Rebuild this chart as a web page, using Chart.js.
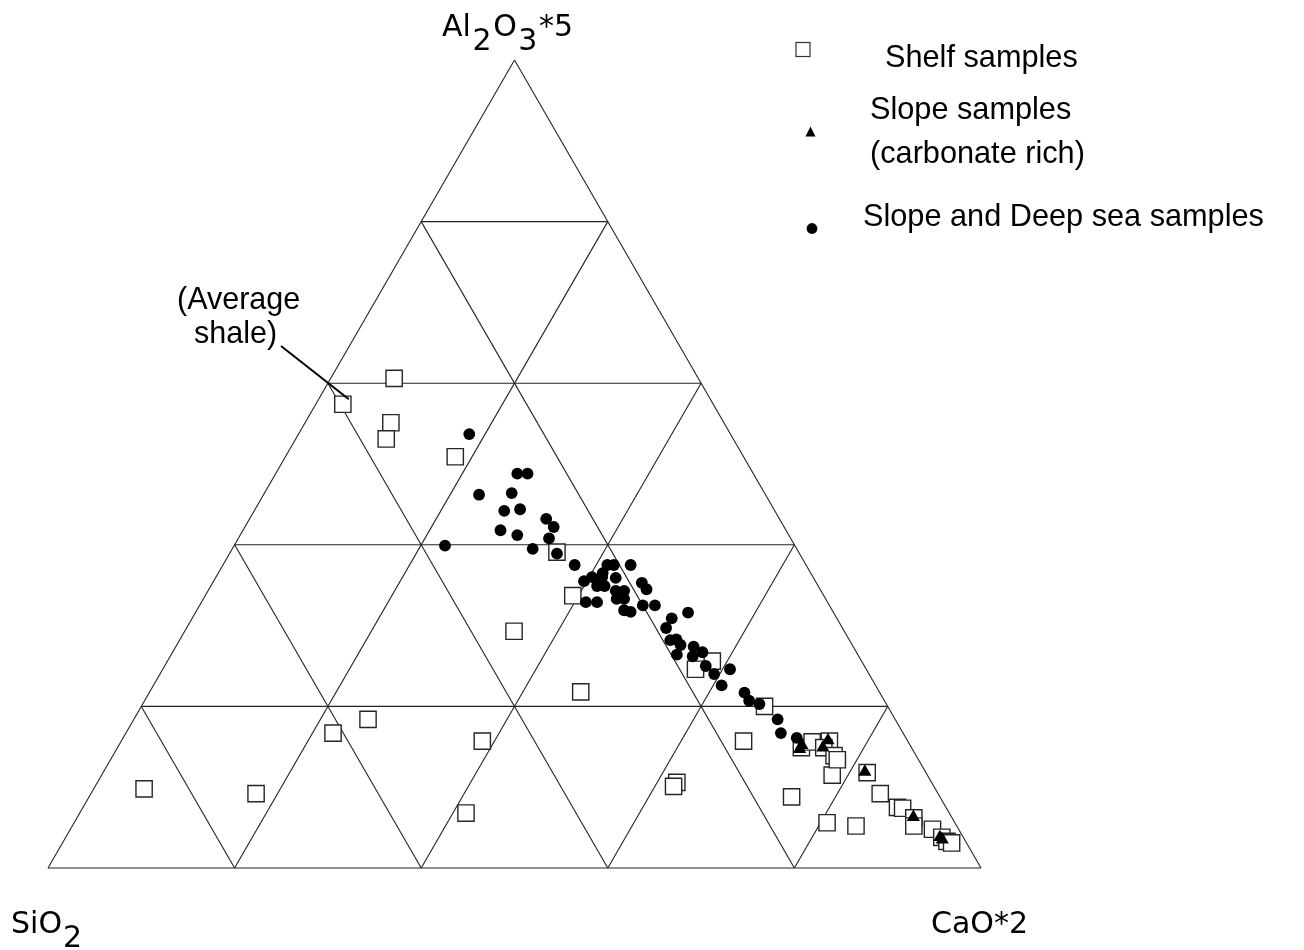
<!DOCTYPE html>
<html>
<head>
<meta charset="utf-8">
<title>Ternary diagram SiO2 - Al2O3 - CaO</title>
<script src="https://cdn.jsdelivr.net/npm/chart.js@4.4.1/dist/chart.umd.min.js"></script>
<style>
  html, body { margin: 0; padding: 0; background: #fff; }
  canvas { display: block; }
</style>
</head>
<body>
<canvas id="ternary" width="1304" height="950"></canvas>
<script>
// Compositions as [Al2O3*5 %, CaO*2 %]; SiO2 makes up the rest
const averageShale = [57.4, 2.9];

const shelfSamples = [
    [60.6, 6.8], [55.1, 9.2], [53.1, 9.7], [50.9, 18.2], [39.1, 35.0],
    [33.7, 39.4], [29.3, 35.3], [21.8, 46.2], [18.4, 25.1], [16.7, 22.2],
    [15.7, 38.7], [9.8, 5.4], [9.2, 17.7], [6.8, 41.4], [24.6, 57.1],
    [25.6, 58.4], [20.0, 66.8], [15.7, 66.7], [10.6, 62.1], [10.1, 62.0],
    [8.8, 75.3], [5.6, 80.7], [5.2, 84.0], [11.5, 78.3], [14.9, 73.3],
    [15.6, 74.1], [15.7, 75.9], [14.9, 75.7], [13.9, 77.3], [13.4, 77.9],
    [11.8, 81.9], [9.2, 84.6], [7.5, 87.3], [7.4, 87.9], [6.2, 89.7],
    [5.2, 90.2], [4.8, 92.4], [3.8, 93.9], [3.3, 94.7], [3.1, 95.3]
];

const slopeCarbonate = [
    [15.2, 73.2], [14.7, 73.2], [14.9, 75.6], [15.8, 75.7],
    [11.9, 81.6], [6.3, 89.6], [3.8, 93.7], [3.5, 94.1]
];

const slopeDeepSea = [
    [53.7, 18.3], [48.8, 25.9], [48.8, 27.0], [46.2, 23.1], [46.4, 26.5],
    [44.2, 26.8], [44.4, 28.4], [41.8, 27.6], [41.2, 29.7], [43.2, 31.8],
    [42.2, 33.1], [40.8, 33.3], [39.9, 22.6], [39.5, 32.2], [38.9, 35.1],
    [37.5, 37.7], [37.5, 41.2], [37.5, 41.9], [37.5, 43.7], [36.5, 41.2],
    [35.5, 39.7], [36.0, 40.3], [36.0, 41.4], [35.9, 42.9], [34.9, 41.4],
    [34.9, 42.2], [35.3, 46.0], [34.5, 46.9], [32.9, 41.2], [32.9, 42.4],
    [34.3, 43.7], [34.3, 44.6], [33.3, 44.3], [33.3, 45.1], [31.9, 45.8],
    [31.7, 46.6], [32.5, 47.5], [32.5, 48.8], [31.6, 52.8], [30.9, 51.4],
    [29.7, 51.4], [28.2, 52.6], [28.3, 53.2], [27.6, 54.0], [26.4, 54.2],
    [27.4, 55.5], [26.7, 56.8], [26.2, 56.0], [25.0, 58.0], [24.0, 59.4],
    [24.6, 60.8], [22.6, 60.9], [21.7, 63.8], [20.7, 64.8], [20.3, 66.1],
    [18.4, 69.0], [16.7, 70.2], [16.1, 72.2]
];

const gridSteps = [20, 40, 60, 80];

const SQRT3_2 = Math.sqrt(3) / 2;

// ternary -> cartesian, base 0..100, apex at (50, 86.6)
function toXY(p) {
    const a = p[0], c = p[1];
    return { x: c + a / 2, y: a * SQRT3_2 };
}

function gridSegments() {
    const segs = [
        [[0, 0], [0, 100]],
        [[0, 100], [100, 0]],
        [[100, 0], [0, 0]]
    ];
    gridSteps.forEach(s => {
        segs.push([[s, 0], [s, 100 - s]]);         // constant Al2O3
        segs.push([[0, s], [100 - s, s]]);         // constant CaO
        segs.push([[0, 100 - s], [100 - s, 0]]);   // constant SiO2
    });
    return segs;
}

const gridDatasets = gridSegments().map(seg => ({
    data: seg.map(toXY),
    showLine: true,
    borderColor: '#222',
    borderWidth: 1.1,
    pointRadius: 0,
    fill: false,
    clip: false,
    order: 10
}));

const pointDatasets = [
    {
        label: 'Shelf samples',
        data: [averageShale].concat(shelfSamples).map(toXY),
        pointStyle: 'rect',
        pointRadius: 11.5,
        backgroundColor: '#fff',
        borderColor: '#262626',
        borderWidth: 1.4,
        clip: false,
        order: 3
    },
    {
        label: 'Slope and Deep sea samples',
        data: slopeDeepSea.map(toXY),
        pointStyle: 'circle',
        pointRadius: 5.9,
        backgroundColor: '#000',
        borderColor: '#000',
        borderWidth: 0,
        clip: false,
        order: 2
    },
    {
        label: 'Slope samples (carbonate rich)',
        data: slopeCarbonate.map(toXY),
        pointStyle: 'triangle',
        pointRadius: 7.6,
        backgroundColor: '#000',
        borderColor: '#000',
        borderWidth: 0,
        clip: false,
        order: 1
    }
];

// chemical formula with same-size subscripts dropped below the baseline
function drawFormula(ctx, parts, x, y, gap) {
    ctx.font = '30px "DejaVu Sans", sans-serif';
    ctx.textAlign = 'left';
    ctx.textBaseline = 'alphabetic';
    parts.forEach(([t, sub]) => {
        ctx.fillText(t, x, sub ? y + 14 : y);
        x += ctx.measureText(t).width + gap;
    });
}

const labelPlugin = {
    id: 'ternaryLabels',
    afterDatasetsDraw(chart) {
        const ctx = chart.ctx;
        const xs = chart.scales.x, ys = chart.scales.y;
        ctx.save();
        ctx.fillStyle = '#000';
        ctx.strokeStyle = '#000';

        // apex / corner labels
        drawFormula(ctx, [['Al', 0], ['2', 1], ['O', 0], ['3', 1], ['*5', 0]], 442, 36, 1.6);
        drawFormula(ctx, [['SiO', 0], ['2', 1]], 11, 933, 1);
        drawFormula(ctx, [['CaO*2', 0]], 931, 933, 0);

        // legend
        ctx.font = '30.7px "Liberation Sans", Arial, sans-serif';
        ctx.fillText('Shelf samples', 885, 67);
        ctx.fillText('Slope samples', 870, 119);
        ctx.fillText('(carbonate rich)', 870, 163);
        ctx.fillText('Slope and Deep sea samples', 863, 226);

        ctx.lineWidth = 1.2;
        ctx.fillStyle = '#fff';
        ctx.strokeStyle = '#333';
        ctx.fillRect(796, 42.5, 14, 14);
        ctx.strokeRect(796, 42.5, 14, 14);

        ctx.fillStyle = '#000';
        ctx.beginPath();
        ctx.moveTo(810.5, 126.5);
        ctx.lineTo(815.5, 136.5);
        ctx.lineTo(805.5, 136.5);
        ctx.closePath();
        ctx.fill();

        ctx.beginPath();
        ctx.arc(812, 228.5, 5.4, 0, Math.PI * 2);
        ctx.fill();

        // average shale callout
        const p = toXY(averageShale);
        const px = xs.getPixelForValue(p.x), py = ys.getPixelForValue(p.y);
        ctx.font = '30.5px "Liberation Sans", Arial, sans-serif';
        ctx.fillText('(Average', 177, 309);
        ctx.fillText('shale)', 194, 343);
        ctx.lineWidth = 2;
        ctx.strokeStyle = '#000';
        ctx.beginPath();
        ctx.moveTo(281, 346);
        ctx.lineTo(px + 6, py - 5);
        ctx.stroke();

        ctx.restore();
    }
};

window.addEventListener('DOMContentLoaded', () => {
    new Chart(document.getElementById('ternary'), {
        type: 'scatter',
        data: { datasets: gridDatasets.concat(pointDatasets) },
        options: {
            responsive: false,
            animation: false,
            events: [],
            layout: { padding: { left: 48, right: 323, top: 60, bottom: 82 } },
            plugins: {
                legend: { display: false },
                tooltip: { enabled: false }
            },
            scales: {
                x: { type: 'linear', min: 0, max: 100, display: false },
                y: { type: 'linear', min: 0, max: 100 * SQRT3_2, display: false }
            }
        },
        plugins: [labelPlugin]
    });
});
</script>
</body>
</html>
